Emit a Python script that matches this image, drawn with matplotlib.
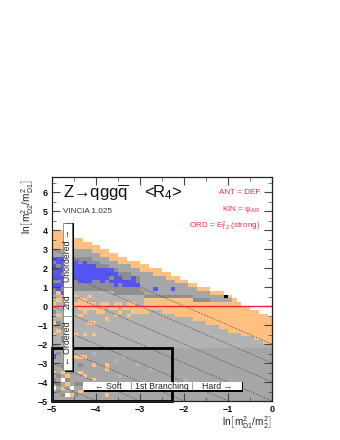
import numpy as np
from matplotlib import pyplot as plt
from matplotlib.colors import ListedColormap
from matplotlib.patches import Rectangle

plt.rcParams['font.family'] = ['Liberation Sans', 'DejaVu Sans']
plt.rcParams['mathtext.fontset'] = 'custom'
plt.rcParams['mathtext.rm'] = 'Liberation Sans'
plt.rcParams['mathtext.it'] = 'Liberation Sans'
plt.rcParams['mathtext.bf'] = 'Liberation Sans:bold'

# bins
x_edges = [-5 + 0.1 * i for i in range(51)]
y_edges = [-5 + 0.2 * j for j in range(47)]

# band limits per x bin
orange_top = [4.0, 4.0, 4.0, 3.8, 3.8, 3.6, 3.6, 3.4, 3.4, 3.2, 3.2, 3.0, 3.0, 2.8, 2.8, 2.6, 2.6,
              2.4, 2.4, 2.4, 2.2, 2.2, 2.0, 2.0, 2.0, 1.8, 1.8, 1.6, 1.6, 1.4, 1.4, 1.2, 1.2,
              1.0, 1.0, 1.0, 0.8, 0.8, 0.8, 0.6, 0.6, 0.4, 0.2, 0, 0, 0, 0, 0, 0, 0]
gray_top = [3.0, 3.0, 3.0, 3.0, 3.0, 3.0, 3.0, 3.0, 3.0, 2.8, 2.8, 2.6, 2.6, 2.4, 2.4, 2.2, 2.2,
            2.2, 2.0, 2.0, 1.8, 1.8, 1.8, 1.6, 1.6, 1.6, 1.4, 1.4, 1.2, 1.2, 1.2, 1.0, 1.0,
            0.8, 0.8, 0.8, 0.6, 0.6, 0.6, 0.6, 0.4, 0.2, 0, 0, 0, 0, 0, 0, 0, 0]
gray_bot = [0.6, 0.6, 0.6, 0.6, 0.6, 0.8, 0.8, 0.8, 0.8, 0.8, 0.8, 0.8, 0.8, 0.8, 0.6, 0.6, 0.6,
            0.6, 0.6, 0.6, 0.6, 0.4, 0.4, 0.4, 0.4, 0.4, 0.4, 0.4, 0.4, 0.4, 0.4, 0.4, 0.2,
            0.2, 0.2, 0.2, 0.2, 0.2, 0.2, 0.2, 0.2, 0.2, 0, 0, 0, 0, 0, 0, 0, 0]
blue_top = [2.6, 2.6, 2.6, 2.6, 2.6, 2.4, 2.4, 2.4, 2.2, 2.2, 2.2, 2.0, 2.0, 2.0, 1.8, 1.6, 1.6,
            1.4, 1.4, 1.4]
blue_bot = [1.0, 1.0, 1.0, 1.0, 1.0, 1.2, 1.2, 1.2, 1.2, 1.2, 1.2, 1.2, 1.2, 1.2, 1.0, 1.0, 1.0,
            1.0, 1.0, 1.0]
low_orange_top = [0] * 45 + [-0.2, -0.2, -0.4, -0.4, -0.6]
low_orange_bot = [0] * 22 + [-0.2, -0.2, -0.2, -0.4, -0.4, -0.4, -0.6, -0.6, -0.6, -0.6, -0.8,
                             -0.8, -0.8, -1.0, -1.0, -1.0, -1.2, -1.2, -1.4, -1.4, -1.4, -1.6,
                             -1.6, -1.6, -1.8, -1.8, -2.0, -2.0]

# single cells (x bin, y bin)
orange_cells = [(1, 22), (0, 20), (1, 18), (0, 17), (8, 20), (7, 17), (9, 17), (9, 20), (12, 21),
                (14, 22), (6, 11), (7, 11), (2, 7), (3, 6), (6, 7), (9, 9), (12, 9),
                (9, 5), (5, 17), (5, 11), (7, 6), (12, 8), (12, 1),
                (2, 3), (4, 1), (0, 7), (3, 4), (6, 2),
                (6, 24), (7, 24), (8, 24), (9, 24), (10, 24), (11, 24), (13, 24), (14, 24),
                (16, 24), (17, 24), (18, 24), (19, 24), (20, 24), (21, 24), (10, 23), (11, 23),
                (7, 23), (15, 23), (18, 23), (19, 23), (20, 23), (21, 23), (6, 22), (17, 22),
                (5, 25), (6, 25), (7, 25), (8, 25), (9, 25), (11, 25), (12, 25), (14, 25),
                (15, 25), (17, 25), (18, 25), (6, 26), (7, 26),
                (8, 27), (5, 27), (0, 25), (1, 26), (2, 27), (1, 28)]
white_cells = [(2, 5), (4, 3), (3, 1), (0, 3)]
blue_cells = [(18, 32), (23, 29), (27, 29), (1, 29), (2, 28), (0, 11)]
dark_cells = [(1, 4), (3, 5), (5, 4), (1, 2), (4, 2), (2, 1), (5, 1), (0, 5), (6, 4), (1, 6),
              (4, 7), (2, 9), (6, 9), (1, 12), (3, 10), (1, 20), (2, 16), (0, 23), (3, 21), (2, 19),
              # gray holes inside the blue patch
              (1, 31), (3, 32), (2, 33), (0, 31), (4, 30), (1, 35), (3, 34), (6, 36), (8, 36),
              (5, 31), (9, 31), (10, 31), (12, 31), (13, 32), (15, 30), (16, 32), (10, 35),
              (0, 36), (4, 36), (19, 31)]
light_cells = [(14, 10), (19, 9), (16, 11), (9, 12), (11, 4), (15, 6), (18, 3), (22, 8), (30, 5), (26, 3)]
black_cells = [(39, 27)]

# 0 white, 1 orange, 2 light, 3 medium, 4 dark, 5 blue, 6 black
cell_colors = ['#ffffff', '#ffc080', '#b2b2b2', '#a6a6a6', '#8e8e8e', '#5555f5', '#000000']

ny = len(y_edges) - 1
grid = np.zeros((ny, 50), dtype=int)
for i in range(50):
    for j in range(ny):
        yc = y_edges[j] + 0.1
        if yc > 0:
            if yc < orange_top[i]:
                grid[j, i] = 1
            if yc < gray_top[i]:
                grid[j, i] = 3 if yc > gray_top[i] - 0.4 else 4
            if i >= 20 and gray_bot[i] + 0.2 < yc < gray_top[i] - 0.4:
                grid[j, i] = 3
            if yc < gray_bot[i]:
                grid[j, i] = 1 if i >= 21 else 2
            if i < len(blue_top) and blue_bot[i] < yc < blue_top[i]:
                grid[j, i] = 5
        else:
            grid[j, i] = 2 if yc > -2.2 else 3
            if low_orange_bot[i] < yc:
                grid[j, i] = 1
            if yc > low_orange_top[i]:
                grid[j, i] = 0

for code, cells in [(1, orange_cells), (0, white_cells), (5, blue_cells), (4, dark_cells),
                    (2, light_cells), (6, black_cells)]:
    for i, j in cells:
        grid[j, i] = code

fig = plt.figure(figsize=(3.4, 4.4), dpi=100)
ax = fig.add_axes([52 / 340, 39 / 440, 220 / 340, 224 / 440])
ax.pcolormesh(x_edges, y_edges, grid, cmap=ListedColormap(cell_colors), vmin=0, vmax=6, rasterized=True)
ax.set_xlim(-5, 0)
ax.set_ylim(-5, 6.8)

# constant ordering lines
for c in [-2, -3, -4, -5, -6, -7, -8, -9]:
    xs = np.array([-5, 0])
    ax.plot(xs, c - xs, color='#505050', lw=0.5, ls=(0, (2.5, 2)), zorder=3)

ax.axhline(0, color='#f02040', lw=1.0, zorder=4)

# soft region box
ax.add_patch(Rectangle((-5, -5), 2.73, 2.8, fill=False, ec='black', lw=2, zorder=5, clip_on=False))

# vertical label box
ax.add_patch(Rectangle((-4.71, -3.45), 0.2, 7.82, fc='black', ec='none', zorder=6))
ax.add_patch(Rectangle((-4.75, -3.37), 0.2, 7.74, fc='white', ec='#555555', lw=0.4, zorder=7))
ax.plot([-4.75, -4.55], [1.0, 1.0], color='#777777', lw=0.5, zorder=8)
ax.plot([-4.75, -4.55], [-0.5, -0.5], color='#777777', lw=0.5, zorder=8)
ax.text(-4.65, 2.65, 'Unordered \u2192', rotation=90, ha='center', va='center', fontsize=6.3, color='#222222', zorder=9)
ax.text(-4.65, 0.25, '2nd', rotation=90, ha='center', va='center', fontsize=6.3, color='#222222', zorder=9)
ax.text(-4.65, -1.95, '\u2190 Ordered', rotation=90, ha='center', va='center', fontsize=6.3, color='#222222', zorder=9)

# horizontal label box
ax.add_patch(Rectangle((-4.27, -4.5), 3.62, 0.5, fc='black', ec='none', zorder=6))
ax.add_patch(Rectangle((-4.3, -4.42), 3.62, 0.42, fc='white', ec='none', zorder=7))
ax.plot([-3.2, -3.2], [-4.42, -4.0], color='#777777', lw=0.5, zorder=8)
ax.plot([-1.82, -1.82], [-4.42, -4.0], color='#777777', lw=0.5, zorder=8)
ax.text(-3.72, -4.21, '\u2190 Soft', ha='center', va='center', fontsize=6.3, color='#222222', zorder=9)
ax.text(-2.51, -4.21, '1st Branching', ha='center', va='center', fontsize=6.3, color='#222222', zorder=9)
ax.text(-1.25, -4.21, 'Hard \u2192', ha='center', va='center', fontsize=6.3, color='#222222', zorder=9)

# header
ax.text(-4.75, 5.95, 'Z\u2192qgg$\\overline{\\mathrm{q}}$', fontsize=12, va='center', color='#111111')
ax.text(-2.9, 5.95, r'<R$_4$>', fontsize=12, va='center', color='#111111')
ax.text(-4.75, 5.0, 'VINCIA 1.025', fontsize=5.9, va='center', color='#333333')
red = '#f03040'
ax.text(-0.26, 6.0, 'ANT = DEF', fontsize=5.9, ha='right', va='center', color=red)
ax.text(-0.26, 5.1, r'KIN = $\psi_{\mathrm{AR}}$', fontsize=5.9, ha='right', va='center', color=red)
ax.text(-0.26, 4.2, r'ORD = E$^2_{\mathrm{T2}}$ (strong)', fontsize=5.9, ha='right', va='center', color=red)

ax.set_xticks([-5, -4, -3, -2, -1, 0])
ax.set_yticks([-5, -4, -3, -2, -1, 0, 1, 2, 3, 4, 5, 6])
ax.set_xticks(np.arange(-5, 0.1, 0.5), minor=True)
ax.set_yticks(np.arange(-5, 6.8, 0.5), minor=True)
ax.set_xticklabels(['\u22125', '\u22124', '\u22123', '\u22122', '\u22121', '0'], fontweight='bold')
ax.set_yticklabels(['\u22125', '\u22124', '\u22123', '\u22122', '\u22121', '0', '1', '2', '3', '4', '5', '6'], fontweight='bold')
ax.tick_params(which='both', direction='in', top=True, right=True, color='#444444', zorder=10)
ax.tick_params(which='major', length=6, width=0.8, labelsize=6.5, pad=3, labelcolor='#111111')
ax.tick_params(which='minor', length=3, width=0.5)
for s in ax.spines.values():
    s.set_linewidth(0.9)
    s.set_color('#222222')
    s.set_zorder(10)

fig.text(272 / 340, 1 - 423 / 440, r'ln$\left[\mathrm{m}^2_{\mathrm{D1}}/\mathrm{m}^2_{\mathrm{2}}\right]$',
         fontsize=7.2, ha='right', va='center', color='#222222')
fig.text(28 / 340, 1 - 179 / 440, r'ln$\left[\mathrm{m}^2_{\mathrm{D2}}/\mathrm{m}^2_{\mathrm{D1}}\right]$',
         fontsize=7.2, rotation=90, ha='center', va='top', color='#222222')

fig.savefig('out.png', dpi=100)
plt.close(fig)
